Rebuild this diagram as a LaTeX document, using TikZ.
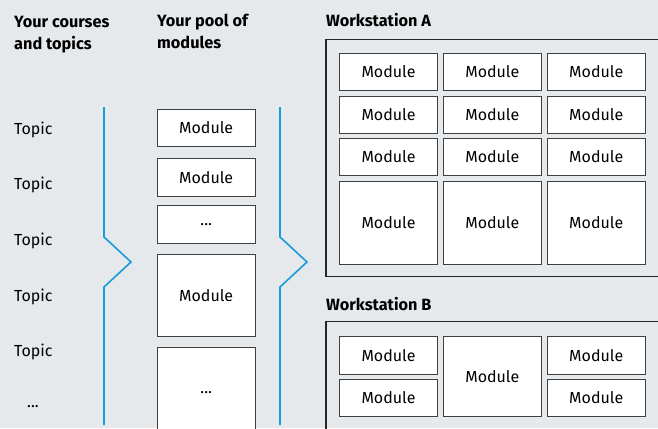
\documentclass[tikz,border=0pt]{standalone}
\usepackage{fontspec}
\setmainfont{Fira Sans}
\definecolor{bgcol}{RGB}{230,233,236}
\definecolor{bracketcol}{RGB}{24,155,220}
\tikzset{
  module/.style={draw=black!75, fill=white, line width=0.9pt, inner sep=0pt,
    minimum width=98pt, font=\fontsize{16}{19}\selectfont},
  header/.style={anchor=north west, inner sep=0pt, align=left,
    font=\fontsize{16.3}{22}\selectfont\bfseries},
  topic/.style={anchor=west, inner sep=0pt, font=\fontsize{16}{19}\selectfont},
  bracket/.style={draw=bracketcol, line width=1.6pt},
  station/.style={draw=black!85, line width=1.2pt},
}
\begin{document}
\begin{tikzpicture}[x=1pt,y=-1pt]
  \useasboundingbox[fill=bgcol] (0,0) rectangle (658,428);
  \clip (0,0) rectangle (658,428);

  % column headers
  \node[header] (coursesHead) at (14,16) {Your courses\\and topics};
  \node[header] (poolHead) at (157,14) {Your pool of\\modules};
  \node[header] (wsAHead) at (326,13) {Workstation A};
  \node[header] (wsBHead) at (326,297) {Workstation B};

  % topics
  \foreach \y [count=\i] in {130,185,241,297,352}
    \node[topic] (topic\i) at (14,\y) {Topic};
  \node[topic, anchor=center] (topicMore) at (33,407) {...};

  % brackets
  \draw[bracket] (104,107) -- (104,237) -- (131,262) -- (104,287) -- (104,425);
  \draw[bracket] (280,107) -- (280,237) -- (307,262) -- (280,287) -- (280,425);

  % pool of modules
  \node[module, minimum height=37.7pt] (pool1) at (206.2,127.8) {Module};
  \node[module, minimum height=37.7pt] (pool2) at (206.2,177.5) {Module};
  \node[module, minimum height=37.7pt] (pool3) at (206.2,224.5) {...};
  \node[module, minimum height=82.7pt] (pool4) at (206.2,295.3) {Module};
  \node[module, minimum height=92pt] (pool5) at (206.2,393) {...};

  % workstation A
  \draw[station] (326,39.3) rectangle (700,276.7);
  \foreach \x [count=\c] in {388.5,492.3,596.2} {
    \node[module, minimum height=37.4pt] (a1\c) at (\x,72) {Module};
    \node[module, minimum height=37.4pt] (a2\c) at (\x,114.7) {Module};
    \node[module, minimum height=37.4pt] (a3\c) at (\x,157) {Module};
    \node[module, minimum height=83.3pt] (a4\c) at (\x,222.7) {Module};
  }

  % workstation B
  \draw[station] (326,321.7) rectangle (700,470);
  \node[module, minimum height=37.4pt] (b11) at (388.5,355.3) {Module};
  \node[module, minimum height=37.7pt] (b21) at (388.5,397.8) {Module};
  \node[module, minimum height=80pt] (b2) at (492.3,376.7) {Module};
  \node[module, minimum height=37.4pt] (b13) at (596.2,355.3) {Module};
  \node[module, minimum height=37.7pt] (b23) at (596.2,397.8) {Module};
\end{tikzpicture}
\end{document}
